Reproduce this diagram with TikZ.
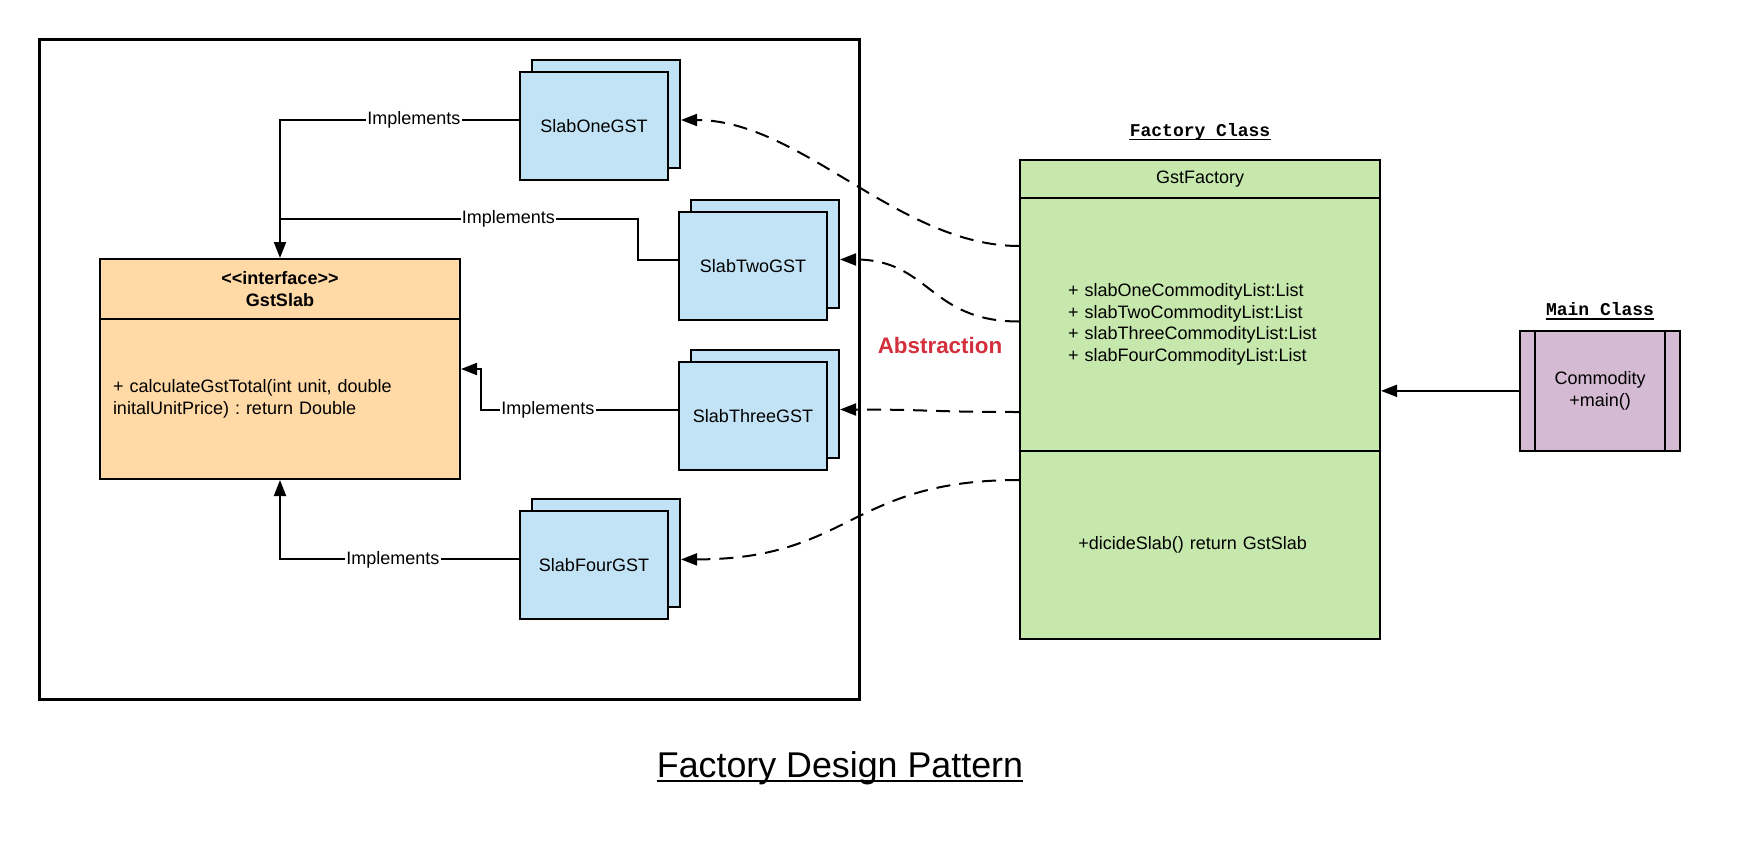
\documentclass[tikz,border=0pt]{standalone}
\usepackage{fontspec}
\setmainfont{Liberation Sans}[Ligatures=TeXOff]
\newfontfamily\monob{Liberation Mono}[Ligatures=TeXOff]
\usetikzlibrary{arrows.meta,calc}
\definecolor{slabblue}{HTML}{C2E3F5}
\definecolor{ifaceorange}{HTML}{FFD9A6}
\definecolor{factgreen}{HTML}{C7E8AD}
\definecolor{mainpurple}{HTML}{D4BAD3}
\definecolor{abstred}{HTML}{D32F3C}
\frenchspacing
\begin{document}
\begin{tikzpicture}[x=0.5pt,y=-0.5pt,
  txt/.style={font=\fontsize{9pt}{10.8pt}\selectfont},
  box/.style={draw=black, line width=1pt, inner sep=0pt, txt},
  slab/.style={box, fill=slabblue, minimum width=74pt, minimum height=54pt, text depth=-1.5pt},
  iface/.style={box, fill=ifaceorange, minimum width=180pt},
  fact/.style={box, fill=factgreen, minimum width=180pt},
  impl/.style={draw=black, line width=1pt},
  implarrow/.style={impl, -{Triangle[length=8pt,width=6pt]}},
  dep/.style={draw=black, line width=1pt, dash pattern=on 7pt off 4.5pt, -{Triangle[length=8pt,width=6pt]}},
  lbl/.style={fill=white, inner sep=0.6pt, txt},
  ttl/.style={anchor=base, inner sep=0pt},
]
\useasboundingbox (0,0) rectangle (1760,840);
\node[draw=black, line width=1.6pt, minimum width=410pt, minimum height=330pt, inner sep=0pt] (frame) at (449.7,369.5) {};

% interface
\node[iface, minimum height=30pt, align=center, font=\fontsize{9pt}{11pt}\selectfont\bfseries] (gsth) at (280,289) {<<interface>>\\GstSlab};
\node[iface, minimum height=80pt, text width=167pt, inner xsep=6.5pt, align=left] (gst) at (280,399) {+ calculateGstTotal(int unit, double\\initalUnitPrice) : return Double};

% slabs
\node[slab] (s1b) at (606,114) {};
\node[slab] (s1) at (594,126) {SlabOneGST};
\node[slab] (s2b) at (765,253.5) {};
\node[slab] (s2) at (753,265.5) {SlabTwoGST};
\node[slab] (s3b) at (765,403.5) {};
\node[slab] (s3) at (753,415.5) {SlabThreeGST};
\node[slab] (s4b) at (606,553.4) {};
\node[slab] (s4) at (594,565.4) {SlabFourGST};

% factory
\node[fact, minimum height=18.9pt] (fhead) at (1200,179) {GstFactory};
\node[fact, minimum height=126.6pt, text width=132pt, inner xsep=24pt, align=left] (fattr) at (1200,324.4) {+ slabOneCommodityList:List\\+ slabTwoCommodityList:List\\+ slabThreeCommodityList:List\\+ slabFourCommodityList:List};
\node[fact, minimum height=93.8pt, text width=121.6pt, inner xsep=29.2pt, align=left] (fmeth) at (1200,544.8) {+dicideSlab() return GstSlab};

% main
\node[box, fill=mainpurple, minimum width=80pt, minimum height=60pt, align=center] (main) at (1600,390.85) {Commodity\\+main()};
\draw[line width=1pt] ($(main.north west)+(16,0)$) -- ($(main.south west)+(16,0)$);
\draw[line width=1pt] ($(main.north east)+(-16,0)$) -- ($(main.south east)+(-16,0)$);

% titles
\node[ttl, font=\monob\fontsize{9pt}{10pt}\selectfont\bfseries] (tfact) at (1200,136) {Factory Class};
\draw[line width=0.8pt] ($(tfact.base west)+(0,3.5)$) -- ($(tfact.base east)+(0,3.5)$);
\node[ttl, font=\monob\fontsize{9pt}{10pt}\selectfont\bfseries] (tmain) at (1600,315.6) {Main Class};
\draw[line width=0.8pt] ($(tmain.base west)+(0,3.5)$) -- ($(tmain.base east)+(0,3.5)$);
\node[ttl, font=\fontsize{17.9pt}{20pt}\selectfont] (title) at (840,777) {Factory Design Pattern};
\draw[line width=1pt] ($(title.base west)+(0,4)$) -- ($(title.base east)+(0,4)$);
\node[ttl, font=\fontsize{11.2pt}{13pt}\selectfont\bfseries, text=abstred] (abs) at (940,353.5) {Abstraction};

% implements connectors
\draw[implarrow] ($(s1.west)+(0,-6)$) -| node[lbl, pos=0.22] {Implements} (gsth.north);
\coordinate (j2) at (280,219);
\draw[impl] ($(s2.west)+(0,-6)$) -- ++(-40,0) |- node[lbl, pos=0.681] {Implements} (j2);
\draw[implarrow] ($(s3.west)+(0,-6)$) -- node[lbl, pos=0.66] {Implements} ++(-197,0) |- ($(gst.east)+(0,-30)$);
\draw[implarrow] ($(s4.west)+(0,-6)$) -| node[lbl, pos=0.264] {Implements} (gst.south);

% factory creates
\draw[dep] ($(fattr.north west)+(0,49.2)$) .. controls +(-120,0) and +(120,0) .. ($(s1b.east)+(0,6)$);
\draw[dep] ($(fattr.north west)+(0,124.7)$) .. controls +(-90,0) and +(90,0) .. ($(s2b.east)+(0,6)$);
\draw[dep] ($(fattr.north west)+(0,215.2)$) .. controls +(-90,0) and +(90,0) .. ($(s3b.east)+(0,6)$);
\draw[dep] ($(fmeth.north west)+(0,30)$) .. controls +(-170,0) and +(170,0) .. ($(s4b.east)+(0,6)$);

% main uses factory
\draw[implarrow] (main.west) -- (main.west -| fattr.east);
\end{tikzpicture}
\end{document}
